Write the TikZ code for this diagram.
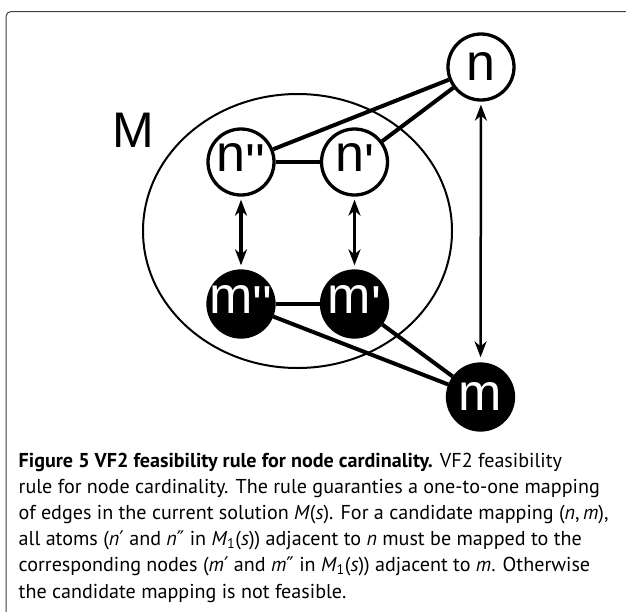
\documentclass[tikz,border=0pt]{standalone}
\usepackage{fontspec}
\setmainfont{PT Sans}
\newfontfamily\lblfont{Liberation Sans}
\newfontfamily\primefont{DejaVu Sans}
\usetikzlibrary{arrows.meta}
\definecolor{framegray}{rgb}{0.25,0.25,0.25}
\newcommand\tick{\raisebox{-9pt}{\textquotesingle}}
\newcommand\pr{{\primefont ′}}
\newcommand\ppr{{\primefont ″}}
\begin{document}
\begin{tikzpicture}[x=1pt,y=-1pt,
  nvert/.style={circle, draw=black, fill=white, line width=3.3pt, minimum size=66pt, inner sep=0pt, font={\lblfont\fontsize{52}{56}\selectfont}},
  mvert/.style={nvert, fill=black, text=white, inner sep=-4pt},
  link/.style={line width=4pt},
  match/.style={{Stealth[length=16pt,width=12pt,inset=5pt]}-{Stealth[length=16pt,width=12pt,inset=5pt]}, line width=3.5pt, shorten <=3pt, shorten >=4pt},
  captext/.style={anchor=base west, inner sep=0pt, font=\fontsize{20.1}{26}\selectfont}]
\useasboundingbox (0,0) rectangle (626,611);
\clip (0,0) rectangle (626,611);
\draw[framegray, line width=1pt, rounded corners=5pt] (6,640) |- (660,11.5);
% the set M
\draw[line width=2pt] (297.5,231) ellipse [x radius=154.5pt, y radius=137pt];
\node[inner sep=0pt, font={\lblfont\fontsize{50}{54}\selectfont}] (mname) at (133,130) {M};
% pattern and target nodes
\node[nvert] (n) at (481,67) {n};
\node[nvert] (npp) at (241,162) {n\tick\tick};
\node[nvert] (np) at (354.5,162) {n\tick};
\node[mvert] (mpp) at (241,304) {m\tick\tick};
\node[mvert] (mp) at (354.5,304) {m\tick};
\node[mvert] (m) at (480.5,397) {m};
\draw[link] (n) -- (npp);
\draw[link] (n) -- (np);
\draw[link] (npp) -- (np);
\draw[link] (mpp) -- (mp);
\draw[link] (mpp) -- (m);
\draw[link] (mp) -- (m);
\foreach \a/\b in {npp/mpp, np/mp} \draw[match] (\a) -- (\b);
\draw[match, line width=2.5pt, shorten >=5pt] (n) -- (m);
% caption
\foreach \t [count=\i] in {
  {\textbf{Figure 5 VF2 feasibility rule for node cardinality.} VF2 feasibility},
  {rule for node cardinality. The rule guaranties a one-to-one mapping},
  {of edges in the current solution \textit{M}(\textit{s}). For a candidate mapping (\textit{n},\,\textit{m}),},
  {all atoms (\textit{n}\pr{} and \textit{n}\ppr{} in \textit{M}\textsubscript{1}(\textit{s})) adjacent to \textit{n} must be mapped to the},
  {corresponding nodes (\textit{m}\pr{} and \textit{m}\ppr{} in \textit{M}\textsubscript{1}(\textit{s})) adjacent to \textit{m}. Otherwise},
  {the candidate mapping is not feasible.}}
  \node[captext] (cap\i) at (18.5,{467+26.2*(\i-1)}) {\t};
\end{tikzpicture}
\end{document}
